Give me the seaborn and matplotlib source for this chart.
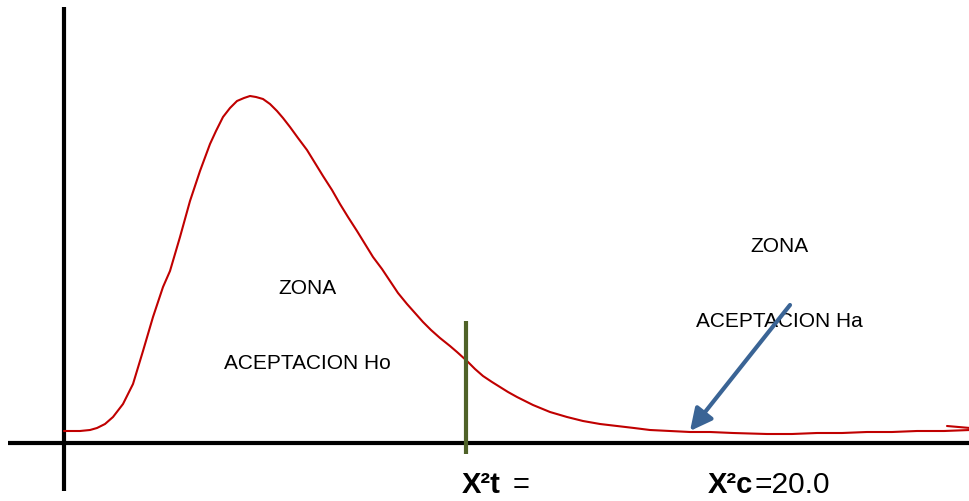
import pandas as pd
import matplotlib
matplotlib.use("Agg")
import matplotlib.pyplot as plt
import seaborn as sns

# curve: x along the axis, height above the axis
curve_x = [0, 16, 26, 33, 41, 49, 59, 69, 79, 89, 99, 106, 116, 126, 136, 146, 152,
           159, 166, 173, 180, 186, 192, 199, 206, 213, 219, 226, 234, 243, 251, 259,
           268, 276, 284, 293, 301, 309, 318, 326, 334, 343, 351, 359, 367, 376, 386,
           393, 403, 411, 419, 428, 436, 444, 453, 469, 486, 503, 519, 536, 553, 570,
           586, 606, 626, 646, 669, 703, 728, 753, 778, 803, 828, 853, 880, 906]
curve_y = [12, 12, 13, 15, 19, 26, 39, 59, 92, 126, 156, 172, 206, 242, 272, 299, 312,
           326, 335, 342, 345, 347, 346, 344, 339, 332, 325, 316, 305, 293, 280, 267,
           253, 239, 226, 212, 199, 186, 174, 162, 150, 139, 130, 121, 113, 105, 97,
           91, 82, 74, 67, 61, 56, 51, 46, 38, 31, 26, 22, 19, 17, 15,
           13, 12, 11, 11, 10, 9, 9, 10, 10, 11, 11, 12, 12, 13]

# little stroke at the right end of the curve
tail_x = [883, 906]
tail_y = [17, 15]

chi_t = 402      # critical value line position
chi_t_range = [122, -11]
arrow_from = (726, 138)
arrow_to = (626, 12)

zone_left = ["ZONA", "ACEPTACION Ho"]
zone_right = ["ZONA", "ACEPTACION Ha"]
calc_value = "20.0"

sns.set_style("white")
plt.rcParams["font.family"] = ["Liberation Sans", "DejaVu Sans"]

fig = plt.figure(figsize=(9.7, 5.02), dpi=100)
ax = fig.add_axes([0, 0, 1, 1])
ax.set_xlim(-64, 906)
ax.set_ylim(-58, 444)
ax.axis("off")

# axes drawn by hand
ax.plot([-56, 906], [0, 0], color="black", lw=3, solid_capstyle="butt", zorder=2)
ax.plot([0, 0], [-48, 436], color="black", lw=3, solid_capstyle="butt", zorder=2)

df = pd.DataFrame({"x": curve_x, "y": curve_y})
sns.lineplot(data=df, x="x", y="y", color="#C00000", lw=1.5, ax=ax, zorder=3, sort=False)
ax.plot(tail_x, tail_y, color="#C00000", lw=1.5, zorder=3)

ax.plot([chi_t, chi_t], chi_t_range, color="#4F6228", lw=3, solid_capstyle="butt", zorder=4)

ax.annotate("", xy=arrow_to, xytext=arrow_from,
            arrowprops=dict(arrowstyle="-|>", color="#3A6495", lw=3, mutation_scale=33,
                            shrinkA=0, shrinkB=0), zorder=5)

txt = dict(color="black", va="baseline")
ax.text(243, 150, zone_left[0], fontsize=15, ha="center", **txt)
ax.text(243, 75, zone_left[1], fontsize=15, ha="center", **txt)
ax.text(715, 192, zone_right[0], fontsize=15, ha="center", **txt)
ax.text(715, 117, zone_right[1], fontsize=15, ha="center", **txt)

ax.text(398, -49, "X²t", fontsize=21, fontweight="bold", ha="left", **txt)
ax.text(449, -49, "=", fontsize=21, ha="left", **txt)
ax.text(644, -49, "X²c", fontsize=21, fontweight="bold", ha="left", **txt)
ax.text(691, -49, "=" + calc_value, fontsize=21.5, ha="left", **txt)

fig.savefig("out.png", dpi=100)
plt.close("all")
